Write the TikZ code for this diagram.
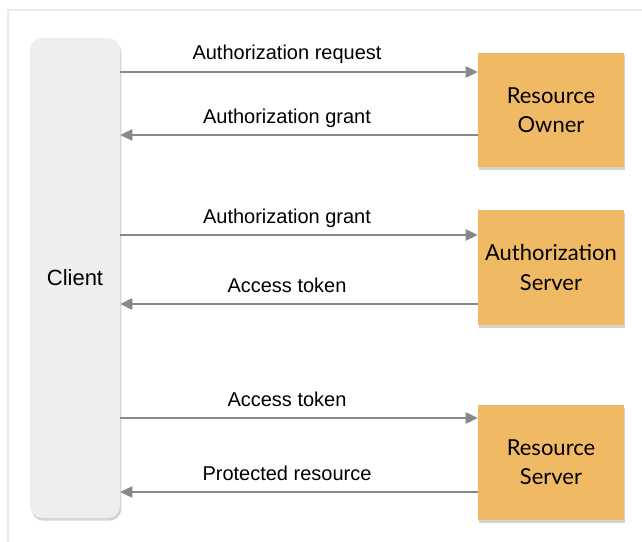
\documentclass[tikz,border=0pt]{standalone}
\usepackage{fontspec}
\setmainfont{Liberation Sans}
\newfontfamily\boxfont{Lato}
\usetikzlibrary{arrows.meta,positioning,shadows}

\definecolor{partyorange}{HTML}{F0B963}
\definecolor{clientgray}{HTML}{EEEEEE}
\definecolor{arrowgray}{HTML}{888888}
\definecolor{framegray}{HTML}{EAEAEA}

\begin{document}
\begin{tikzpicture}[
  x=0.75pt, y=-0.75pt,
  party/.style={rectangle, fill=partyorange, minimum width=109.5pt, minimum height=86pt, align=center,
    font=\boxfont\fontsize{16.5}{22}\selectfont, drop shadow={shadow xshift=1pt, shadow yshift=-2pt, opacity=0.35}},
  clientbox/.style={rectangle, rounded corners=9pt, fill=clientgray, minimum width=67.5pt, minimum height=360pt,
    font=\fontsize{16.5}{20}\selectfont, drop shadow={shadow xshift=1pt, shadow yshift=-2pt, opacity=0.35}},
  arrow/.style={-{Triangle[length=9pt,width=8.5pt]}, draw=arrowgray, line width=1pt},
  msg/.style={midway, anchor=base, yshift=9pt, xshift=-9pt, inner sep=0pt, font=\fontsize{15}{18}\selectfont}
]
  \useasboundingbox (0,0) rectangle (642,542);
  \draw[framegray, line width=1pt] (8,542) -- (8,10) -- (642,10);

  \node[clientbox] (client) at (75,278) {Client};
  \node[party] (owner) at (551,110) {Resource\\Owner};
  \node[party] (authsrv) at (551,267.5) {Authorization\\Server};
  \node[party] (ressrv) at (551,462.5) {Resource\\Server};

  \coordinate (r1) at (0,72);
  \coordinate (r2) at (0,135);
  \coordinate (r3) at (0,235);
  \coordinate (r4) at (0,304);
  \coordinate (r5) at (0,418);
  \coordinate (r6) at (0,492);

  \draw[arrow] (client.east |- r1) -- (owner.west |- r1) node[msg] (m1) {Authorization request};
  \draw[arrow] (owner.west |- r2) -- (client.east |- r2) node[msg] (m2) {Authorization grant};
  \draw[arrow] (client.east |- r3) -- (authsrv.west |- r3) node[msg] (m3) {Authorization grant};
  \draw[arrow] (authsrv.west |- r4) -- (client.east |- r4) node[msg] (m4) {Access token};
  \draw[arrow] (client.east |- r5) -- (ressrv.west |- r5) node[msg] (m5) {Access token};
  \draw[arrow] (ressrv.west |- r6) -- (client.east |- r6) node[msg] (m6) {Protected resource};
\end{tikzpicture}
\end{document}
